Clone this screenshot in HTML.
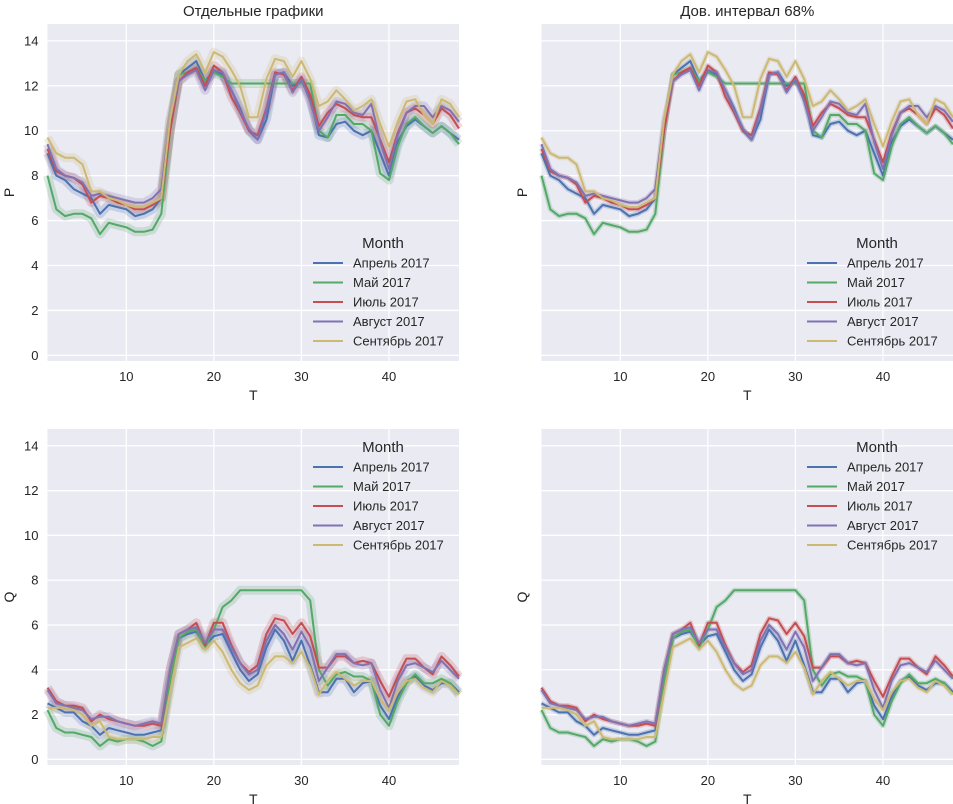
<!DOCTYPE html>
<html><head><meta charset="utf-8">
<style>
html,body{margin:0;padding:0;background:#fff;}
svg{display:block;font-family:"Liberation Sans","DejaVu Sans",sans-serif;}
</style></head>
<body>
<svg id="chart" width="953" height="804" viewBox="0 0 953 804"></svg>
<script>
const months = ["Апрель 2017","Май 2017","Июль 2017","Август 2017","Сентябрь 2017"];
const colors = ["#4c72b0","#55a868","#c44e52","#8172b2","#ccb974"];
const xTicks = [10,20,30,40];
const yTicks = [0,2,4,6,8,10,12,14];
const pApr = [9.0,8.0,7.8,7.4,7.2,7.0,6.3,6.7,6.6,6.5,6.2,6.3,6.5,7.0,10,12.5,12.8,13.1,12.2,12.7,12.5,11.8,11.0,10.0,9.6,10.5,12.5,12.6,12.0,12.2,11.5,9.8,9.7,10.3,10.4,10.0,9.8,10.0,9.0,8.0,9.5,10.2,10.5,10.2,9.9,10.2,9.9,9.6];
const pMay = [8.0,6.5,6.2,6.3,6.3,6.1,5.4,5.9,5.8,5.7,5.5,5.5,5.6,6.3,10,12.5,12.6,12.8,12.2,12.6,12.4,12.1,12.1,12.1,12.1,12.1,12.1,12.1,12.1,12.1,12.1,10.0,9.7,10.7,10.7,10.3,10.3,10.0,8.1,7.8,9.3,10.3,10.6,10.2,9.9,10.2,9.9,9.4];
const pJul = [9.2,8.2,8.0,7.9,7.6,6.8,7.1,7.0,6.8,6.7,6.5,6.5,6.7,7.0,10,12.2,12.6,12.8,12.0,12.9,12.6,11.5,10.8,10.0,9.8,11.0,12.6,12.5,11.8,12.4,11.6,10.2,10.8,11.2,11.0,10.7,10.6,10.6,9.6,8.6,9.9,10.8,11.0,10.7,10.3,11.0,10.7,10.1];
const pAug = [9.4,8.3,8.0,7.9,7.7,7.1,7.2,7.1,7.0,6.9,6.8,6.8,7.0,7.4,10.5,12.2,12.5,12.7,11.8,12.7,12.6,11.8,10.9,10.1,9.6,10.9,12.5,12.6,11.7,12.3,11.3,10.0,10.6,11.3,11.2,10.8,10.7,11.2,9.5,8.3,9.8,10.8,11.1,11.1,10.6,11.1,10.9,10.4];
const pSep = [9.7,9.0,8.8,8.8,8.5,7.3,7.3,7.0,6.9,6.7,6.6,6.6,6.8,7.0,10.5,12.5,13.1,13.4,12.6,13.5,13.3,12.7,12.0,10.6,10.6,12.3,13.2,13.1,12.4,13.1,12.3,11.1,11.3,11.8,11.4,10.9,11.1,11.4,10.3,9.3,10.4,11.3,11.4,10.7,10.3,11.4,11.2,10.6];
const qApr = [2.5,2.3,2.1,2.1,1.7,1.5,1.1,1.4,1.3,1.2,1.1,1.1,1.2,1.3,3.5,5.4,5.6,5.7,5.1,5.5,5.6,4.8,4.0,3.5,3.8,5.0,5.8,5.3,4.4,5.3,4.2,3.0,3.0,3.6,3.6,3.0,3.4,3.5,2.4,1.8,2.8,3.5,3.7,3.3,3.1,3.4,3.4,3.0];
const qMay = [2.2,1.4,1.2,1.2,1.1,1.0,0.6,0.9,0.8,0.9,0.9,0.8,0.6,0.8,3.5,5.4,5.7,5.8,5.0,5.8,6.8,7.1,7.55,7.55,7.55,7.55,7.55,7.55,7.55,7.55,7.1,4.0,3.3,3.8,3.9,3.7,3.7,3.5,2.0,1.5,2.6,3.4,3.8,3.4,3.4,3.6,3.4,2.9];
const qJul = [3.2,2.6,2.4,2.4,2.3,1.7,2.0,1.8,1.7,1.6,1.5,1.5,1.6,1.5,4.0,5.6,5.8,6.1,5.1,6.1,6.1,5.1,4.3,3.9,4.2,5.6,6.3,6.2,5.6,6.1,5.5,4.1,4.1,4.6,4.6,4.3,4.4,4.3,3.5,2.8,3.7,4.5,4.5,4.1,3.8,4.6,4.2,3.7];
const qAug = [3.1,2.5,2.4,2.3,2.2,1.8,1.9,1.9,1.7,1.6,1.5,1.6,1.7,1.6,4.0,5.6,5.8,5.9,5.2,5.8,5.8,5.0,4.3,3.8,4.0,5.3,6.0,5.6,4.9,5.7,5.0,3.5,4.1,4.7,4.7,4.3,4.2,4.3,3.1,2.3,3.5,4.2,4.3,4.1,3.9,4.4,4.0,3.6];
const qSep = [2.3,2.3,2.3,2.2,2.0,1.5,1.7,1.0,0.9,0.9,0.9,0.9,1.0,1.0,3.0,5.0,5.2,5.4,4.9,5.3,4.8,4.0,3.4,3.1,3.3,4.2,4.6,4.6,4.3,4.8,4.1,2.9,3.5,3.9,3.6,3.3,3.5,3.5,2.7,2.2,3.0,3.5,3.6,3.2,3.0,3.5,3.3,2.9];

const P = [pApr,pMay,pJul,pAug,pSep];
const Q = [qApr,qMay,qJul,qAug,qSep];
const NS = "http://www.w3.org/2000/svg";
const svg = document.getElementById('chart');
function mk(tag, attrs, parent){const e=document.createElementNS(NS,tag);for(const k in attrs)e.setAttribute(k,attrs[k]);(parent||svg).appendChild(e);return e;}

function panel(ox, top, bottom, series, ylab, title, legendTop, faint, name){
  const L=ox+47.5, R=ox+459, x0=1, x1=48;
  const y0v=-0.25, y1v=14.75;
  const X=v=>L+(v-x0)/(x1-x0)*(R-L);
  const Y=v=>bottom-(v-y0v)/(y1v-y0v)*(bottom-top);
  const g=mk('g',{});
  
  
  const bg=mk('rect',{x:L,y:top,width:R-L,height:bottom-top,fill:'#eaeaf2'},g);
  
  
  yTicks.forEach(t=>{
    const ln=mk('line',{x1:L,x2:R,y1:Y(t),y2:Y(t),stroke:'#fff','stroke-width':1.3},g);
    
    
    if(ox===0){
      const tx=mk('text',{x:L-9,y:Y(t)+4.5,'text-anchor':'end','font-size':13,fill:'#262626'},g);
      tx.textContent=t;
      
      
    }
  });
  xTicks.forEach(t=>{
    const ln=mk('line',{x1:X(t),x2:X(t),y1:top,y2:bottom,stroke:'#fff','stroke-width':1.3},g);
    
    
    const tx=mk('text',{x:X(t),y:bottom+20,'text-anchor':'middle','font-size':13,fill:'#262626'},g);
    tx.textContent=t;
    
    
  });
  const xl=mk('text',{x:(L+R)/2,y:bottom+39,'text-anchor':'middle','font-size':14,fill:'#262626'},g);
  xl.textContent='T';
  
  
  const ylx=ox===0?ox+14:ox+33, yly=(top+bottom)/2;
  const yl=mk('text',{x:ylx,y:yly,'text-anchor':'middle','font-size':14,fill:'#262626',transform:`rotate(-90 ${ylx} ${yly})`},g);
  yl.textContent=ylab;
  
  
  if(title){
    const tt=mk('text',{x:(L+R)/2,y:top-8,'text-anchor':'middle','font-size':15,fill:'#262626'},g);
    tt.textContent=title;
    
    
  }
  series.forEach((s,i)=>{
    const d=s.map((v,j)=>(j?'L':'M')+X(j+1).toFixed(1)+' '+Y(v).toFixed(1)).join(' ');
    const band=mk('path',{d:d,fill:'none',stroke:colors[i],'stroke-opacity':faint?0.22:0.25,'stroke-width':faint?9:5,'stroke-linejoin':'round'},g);
    
    
  });
  series.forEach((s,i)=>{
    const d=s.map((v,j)=>(j?'L':'M')+X(j+1).toFixed(1)+' '+Y(v).toFixed(1)).join(' ');
    const p=mk('path',{d:d,fill:'none',stroke:colors[i],'stroke-width':2,'stroke-linejoin':'round'},g);
    
    
  });
  const lg=mk('g',{},g);
  
  
  const lt=mk('text',{x:ox+383,y:legendTop+5,'text-anchor':'middle','font-size':15,fill:'#262626'},lg);
  lt.textContent='Month';
  
  
  months.forEach((m,i)=>{
    const yy=legendTop+20+i*19.5;
    const ll=mk('line',{x1:ox+313,x2:ox+343,y1:yy,y2:yy,stroke:colors[i],'stroke-width':2},lg);
    
    
    const tx=mk('text',{x:ox+353,y:yy+4.5,'font-size':13,fill:'#262626'},lg);
    tx.textContent=m;
    
    
  });
}
panel(0,24,361,P,'P','Отдельные графики',243,true,'panel-p-individual');
panel(494,24,361,P,'P','Дов. интервал 68%',243,false,'panel-p-ci');
panel(0,429,765,Q,'Q','',447,true,'panel-q-individual');
panel(494,429,765,Q,'Q','',447,false,'panel-q-ci');
</script>
</body></html>
